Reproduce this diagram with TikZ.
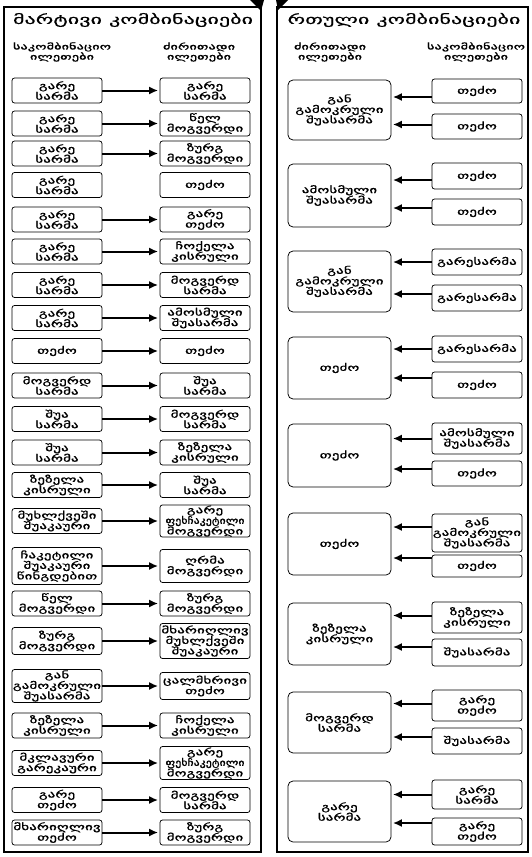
\documentclass[tikz,border=0pt]{standalone}
\usepackage{fontspec}
\newfontfamily\geo[FakeStretch=1.6,FakeBold=0.6]{DejaVu Sans}
\newfontfamily\geot[FakeStretch=1.7,FakeBold=0.6]{DejaVu Sans}
\newfontfamily\geon[FakeStretch=1.25,FakeBold=0.6]{DejaVu Sans}
\usetikzlibrary{arrows.meta}
\begin{document}
\begin{tikzpicture}[x=1pt,y=-1pt,
 lb/.style={draw, line width=0.75pt, rounded corners=2.5pt, minimum width=90pt, minimum height=25pt, inner sep=0.5pt, align=center, font=\geo\fontsize{9.5}{10.5}\selectfont},
 bigbox/.style={lb, rounded corners=5pt, minimum width=103pt},
 arr/.style={line width=2pt, -{Latex[length=9pt,width=8pt]}, shorten >=1.5pt},
 frame/.style={line width=1.4pt},
 ttl/.style={font=\geot\fontsize{13}{15}\selectfont},
 hdr/.style={align=center, font=\geot\fontsize{8.5}{8.5}\selectfont},
]
\newcommand\fch{{\geon ფეხჩაკეტილი}}
\useasboundingbox (0,0) rectangle (531,857);
% frames
\draw[frame] (4,7) rectangle (261,852);
\draw[frame] (277,7) rectangle (528,852);
\fill (250,0) -- (264,0) -- (261,11) -- cycle;
\fill (276,0) -- (288,0) -- (278,10) -- cycle;
% titles
\node[ttl] (t1) at (133,20) {მარტივი კომბინაციები};
\node[ttl] (t2) at (404,20) {რთული კომბინაციები};
\node[hdr] (h1) at (62,52) {საკომბინაციო\\ილეთები};
\node[hdr] (h2) at (199,52) {ძირითადი\\ილეთები};
\node[hdr] (h3) at (330,52) {ძირითადი\\ილეთები};
\node[hdr] (h4) at (476,52) {საკომბინაციო\\ილეთები};
% left panel
\node[lb] (l1) at (57,90.5) {გარე\\სარმა};
\node[lb] (r1) at (205,90.5) {გარე\\სარმა};
\node[lb] (l2) at (57,123.5) {გარე\\სარმა};
\node[lb] (r2) at (205,123.5) {წელ\\მოგვერდი};
\node[lb] (l3) at (57,153.5) {გარე\\სარმა};
\node[lb] (r3) at (205,153.5) {ზურგ\\მოგვერდი};
\node[lb] (l4) at (57,185) {გარე\\სარმა};
\node[lb] (r4) at (205,185) {თეძო};
\node[lb] (l5) at (57,219.5) {გარე\\სარმა};
\node[lb] (r5) at (205,219.5) {გარე\\თეძო};
\node[lb] (l6) at (57,251.5) {გარე\\სარმა};
\node[lb] (r6) at (205,251.5) {ჩოქელა\\კისრული};
\node[lb] (l7) at (57,285) {გარე\\სარმა};
\node[lb] (r7) at (205,285) {მოგვერდ\\სარმა};
\node[lb] (l8) at (57,318) {გარე\\სარმა};
\node[lb] (r8) at (205,318) {ამოსმული\\შუასარმა};
\node[lb] (l9) at (57,351) {თეძო};
\node[lb] (r9) at (205,351) {თეძო};
\node[lb] (l10) at (57,385.5) {მოგვერდ\\სარმა};
\node[lb] (r10) at (205,385.5) {შუა\\სარმა};
\node[lb] (l11) at (57,419) {შუა\\სარმა};
\node[lb] (r11) at (205,419) {მოგვერდ\\სარმა};
\node[lb] (l12) at (57,452.5) {შუა\\სარმა};
\node[lb] (r12) at (205,452.5) {ზეზელა\\კისრული};
\node[lb] (l13) at (57,485) {ზეზელა\\კისრული};
\node[lb] (r13) at (205,485) {შუა\\სარმა};
\node[lb] (l14) at (57,521) {მუხლქვეში\\შუაკაური};
\node[lb, minimum height=31pt] (r14) at (205,521) {გარე\\\fch\\მოგვერდი};
\node[lb, minimum height=37pt] (l15) at (57,566) {ჩაკეტილი\\შუაკაური\\წინგდებით};
\node[lb, minimum height=33pt] (r15) at (205,566) {ღრმა\\მოგვერდი};
\node[lb] (l16) at (57,603.5) {წელ\\მოგვერდი};
\node[lb] (r16) at (205,603.5) {ზურგ\\მოგვერდი};
\node[lb, minimum height=27pt] (l17) at (57,641) {ზურგ\\მოგვერდი};
\node[lb, minimum height=35pt] (r17) at (205,641) {მხარიღლივ\\მუხლქვეში\\შუაკაური};
\node[lb, minimum height=33pt] (l18) at (57,686) {გან\\გამოკრული\\შუასარმა};
\node[lb, minimum height=27pt] (r18) at (205,686) {ცალმხრივი\\თეძო};
\node[lb] (l19) at (57,725.5) {ზეზელა\\კისრული};
\node[lb] (r19) at (205,725.5) {ჩოქელა\\კისრული};
\node[lb] (l20) at (57,763) {მკლავური\\გარეკაური};
\node[lb, minimum height=33pt] (r20) at (205,763) {გარე\\\fch\\მოგვერდი};
\node[lb] (l21) at (57,800) {გარე\\თეძო};
\node[lb] (r21) at (205,800) {მოგვერდ\\სარმა};
\node[lb] (l22) at (57,832.5) {მხარიღლივ\\თეძო};
\node[lb] (r22) at (205,832.5) {ზურგ\\მოგვერდი};
\foreach \i in {1,2,3,5,6,7,8,9,10,11,12,13,14,15,16,17,18,19,20,21,22}
  \draw[arr] (l\i.east) -- (r\i.west);
% right panel
\node[bigbox, minimum height=60pt] (b1) at (339.5,110) {გან\\გამოკრული\\შუასარმა};
\node[lb, minimum height=24pt] (s1a) at (477,91) {თეძო};
\node[lb] (s1b) at (477,126.5) {თეძო};
\node[bigbox, minimum height=63pt] (b2) at (339.5,195.5) {ამოსმული\\შუასარმა};
\node[lb, minimum height=26pt] (s2a) at (477,176) {თეძო};
\node[lb, minimum height=26pt] (s2b) at (477,212) {თეძო};
\node[bigbox, minimum height=61pt] (b3) at (339.5,281.5) {გან\\გამოკრული\\შუასარმა};
\node[lb, minimum height=26pt] (s3a) at (477,262) {გარესარმა};
\node[lb, minimum height=26pt] (s3b) at (477,298) {გარესარმა};
\node[bigbox, minimum height=62pt] (b4) at (339.5,368) {თეძო};
\node[lb, minimum height=26pt] (s4a) at (477,349) {გარესარმა};
\node[lb, minimum height=26pt] (s4b) at (477,385) {თეძო};
\node[bigbox, minimum height=63pt] (b5) at (339.5,455.5) {თეძო};
\node[lb, minimum height=31pt] (s5a) at (477,438.5) {ამოსმული\\შუასარმა};
\node[lb] (s5b) at (477,473.5) {თეძო};
\node[bigbox, minimum height=62pt] (b6) at (339.5,544) {თეძო};
\node[lb, minimum height=38pt] (s6a) at (477,533) {გან\\გამოკრული\\შუასარმა};
\node[lb, minimum height=22pt] (s6b) at (477,566) {თეძო};
\node[bigbox, minimum height=62pt] (b7) at (339.5,634) {ზეზელა\\კისრული};
\node[lb, minimum height=31pt] (s7a) at (477,617.5) {ზეზელა\\კისრული};
\node[lb, minimum height=27pt] (s7b) at (477,652.5) {შუასარმა};
\node[bigbox, minimum height=61pt] (b8) at (339.5,722.5) {მოგვერდ\\სარმა};
\node[lb, minimum height=31pt] (s8a) at (477,705.5) {გარე\\თეძო};
\node[lb, minimum height=26pt] (s8b) at (477,741) {შუასარმა};
\node[bigbox, minimum height=61pt] (b9) at (339.5,811.5) {გარე\\სარმა};
\node[lb, minimum height=29pt] (s9a) at (477,794.5) {გარე\\სარმა};
\node[lb, minimum height=27pt] (s9b) at (477,831.5) {გარე\\თეძო};
% right arrows
\draw[arr] ([yshift=-6pt]s1a.west) -- ([yshift=-6pt]s1a.west -| b1.east);
\draw[arr] ([yshift=2pt]s1b.west) -- ([yshift=2pt]s1b.west -| b1.east);
\draw[arr] ([yshift=-4pt]s2a.west) -- ([yshift=-4pt]s2a.west -| b2.east);
\draw[arr] ([yshift=4pt]s2b.west) -- ([yshift=4pt]s2b.west -| b2.east);
\draw[arr] (s3a.west) -- (s3a.west -| b3.east);
\draw[arr] ([yshift=4pt]s3b.west) -- ([yshift=4pt]s3b.west -| b3.east);
\draw[arr] (s4a.west) -- (s4a.west -| b4.east);
\draw[arr] ([yshift=7pt]s4b.west) -- ([yshift=7pt]s4b.west -| b4.east);
\draw[arr] (s5a.west) -- (s5a.west -| b5.east);
\draw[arr] ([yshift=4.5pt]s5b.west) -- ([yshift=4.5pt]s5b.west -| b5.east);
\draw[arr] ([yshift=6pt]s6a.west) -- ([yshift=6pt]s6a.west -| b6.east);
\draw[arr] ([yshift=8pt]s6b.west) -- ([yshift=8pt]s6b.west -| b6.east);
\draw[arr] ([yshift=2pt]s7a.west) -- ([yshift=2pt]s7a.west -| b7.east);
\draw[arr] ([yshift=5.5pt]s7b.west) -- ([yshift=5.5pt]s7b.west -| b7.east);
\draw[arr] ([yshift=2pt]s8a.west) -- ([yshift=2pt]s8a.west -| b8.east);
\draw[arr] ([yshift=4pt]s8b.west) -- ([yshift=4pt]s8b.west -| b8.east);
\draw[arr] (s9a.west) -- (s9a.west -| b9.east);
\draw[arr] ([yshift=8.5pt]s9b.west) -- ([yshift=8.5pt]s9b.west -| b9.east);
\end{tikzpicture}
\end{document}
